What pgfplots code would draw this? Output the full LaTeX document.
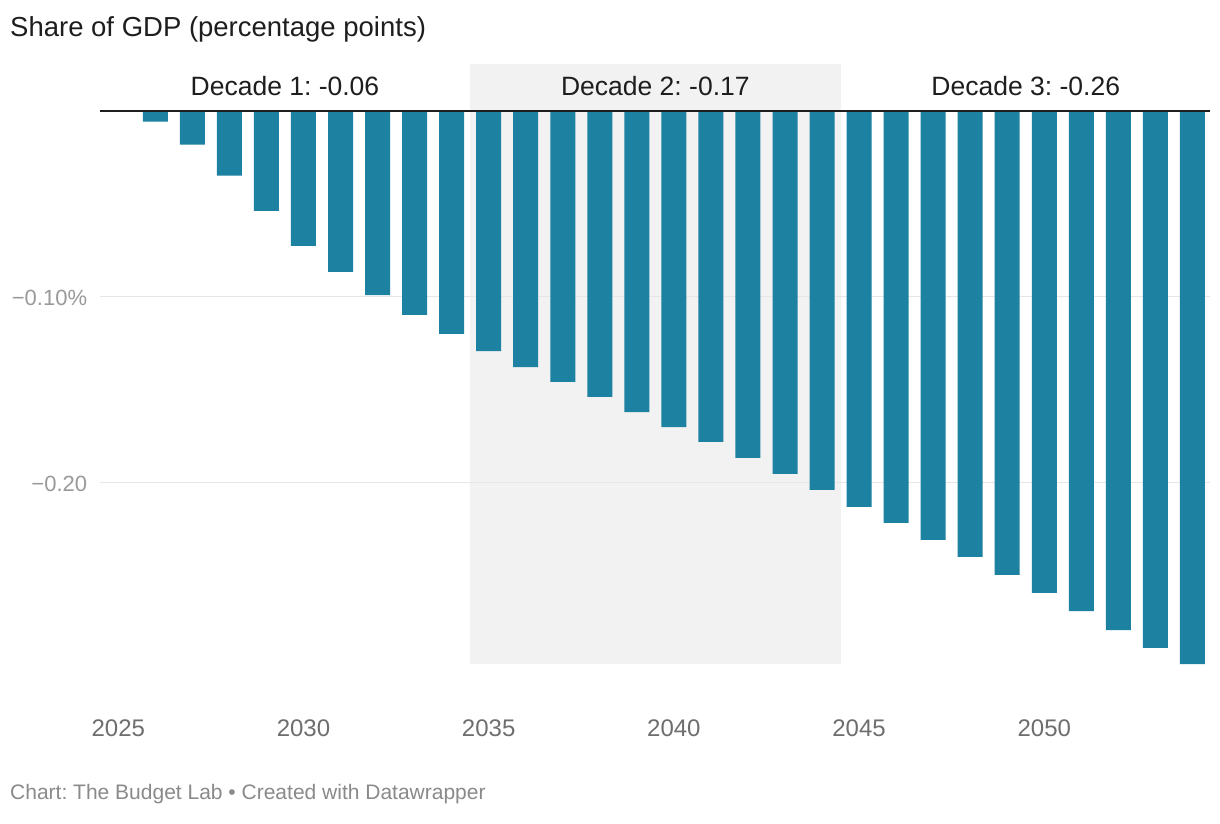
\documentclass[border=0pt]{standalone}
\usepackage{pgfplots}
\pgfplotsset{compat=1.18}
\usepackage{fontspec}
\setmainfont{Liberation Sans}
\frenchspacing
\definecolor{barblue}{HTML}{1D81A2}
\definecolor{shade}{HTML}{F2F2F2}
\definecolor{gridgray}{HTML}{E6E6E6}
\definecolor{ticklab}{HTML}{6E6E6E}
\definecolor{ylab}{HTML}{9A9A9A}
\definecolor{foot}{HTML}{8A8A8A}
\definecolor{ink}{HTML}{1E1E1E}

% change in share of GDP, percentage points
\pgfplotstableread{
year  val
2026 -0.0059
2027 -0.0183
2028 -0.0349
2029 -0.0539
2030 -0.0727
2031 -0.0867
2032 -0.0991
2033 -0.1098
2034 -0.1200
2035 -0.1292
2036 -0.1378
2037 -0.1458
2038 -0.1539
2039 -0.1620
2040 -0.1701
2041 -0.1781
2042 -0.1867
2043 -0.1953
2044 -0.2039
2045 -0.2130
2046 -0.2216
2047 -0.2308
2048 -0.2399
2049 -0.2496
2050 -0.2593
2051 -0.2690
2052 -0.2792
2053 -0.2888
2054 -0.2975
}\gdpdata

\begin{document}
\begin{tikzpicture}
\path[use as bounding box, fill=white] (0,0) rectangle (1220bp,824bp);
\node[anchor=base west, inner sep=0, text=ink, font=\fontsize{27.5bp}{33bp}\selectfont]
  at (10bp,787.3bp) {Share of GDP (percentage points)};
\node[anchor=base west, inner sep=0, text=foot, font=\fontsize{21bp}{25bp}\selectfont]
  at (10bp,24.7bp) {Chart: The Budget Lab • Created with Datawrapper};
\begin{axis}[
    at={(100bp,124bp)}, anchor=south west,
    scale only axis, width=1110bp, height=636bp,
    xmin=2024.506, xmax=2054.474,
    ymin=-0.31683, ymax=0.02511,
    axis line style={draw=none},
    tick style={draw=none},
    clip=false,
    xtick={2025,2030,2035,2040,2045,2050},
    xticklabels={2025,2030,2035,2040,2045,2050},
    xticklabel style={anchor=base, inner sep=0pt, yshift=-36.7bp,
      text=ticklab, font=\fontsize{24bp}{28bp}\selectfont},
    ytick={-0.1,-0.2},
    yticklabels={−0.10\%,−0.20},
    yticklabel style={anchor=base east, inner sep=0pt, xshift=-12.7bp, yshift=-8.5bp,
      text=ylab, font=\fontsize{22bp}{26bp}\selectfont},
]
% decade 2 band
\addplot[fill=shade, draw=none] coordinates
  {(2034.5,0.02511) (2044.5,0.02511) (2044.5,-0.2975) (2034.5,-0.2975)} --cycle;
% grid
\addplot[gridgray, line width=1.5bp] coordinates {(2024.506,-0.1) (2054.474,-0.1)};
\addplot[gridgray, line width=1.5bp] coordinates {(2024.506,-0.2) (2054.474,-0.2)};
% bars
\addplot[ybar, bar width=25bp, fill=barblue, draw=none] table[x=year, y=val] {\gdpdata};
% zero line
\addplot[ink, line width=1.8bp] coordinates {(2024.506,0) (2054.474,0)};
% decade labels
\node[anchor=base, inner sep=0, text=ink, font=\fontsize{26.5bp}{32bp}\selectfont]
  at (axis cs:2029.5,0.0079) {Decade 1: -0.06};
\node[anchor=base, inner sep=0, text=ink, font=\fontsize{26.5bp}{32bp}\selectfont]
  at (axis cs:2039.5,0.0079) {Decade 2: -0.17};
\node[anchor=base, inner sep=0, text=ink, font=\fontsize{26.5bp}{32bp}\selectfont]
  at (axis cs:2049.5,0.0079) {Decade 3: -0.26};
\end{axis}
\end{tikzpicture}
\end{document}
